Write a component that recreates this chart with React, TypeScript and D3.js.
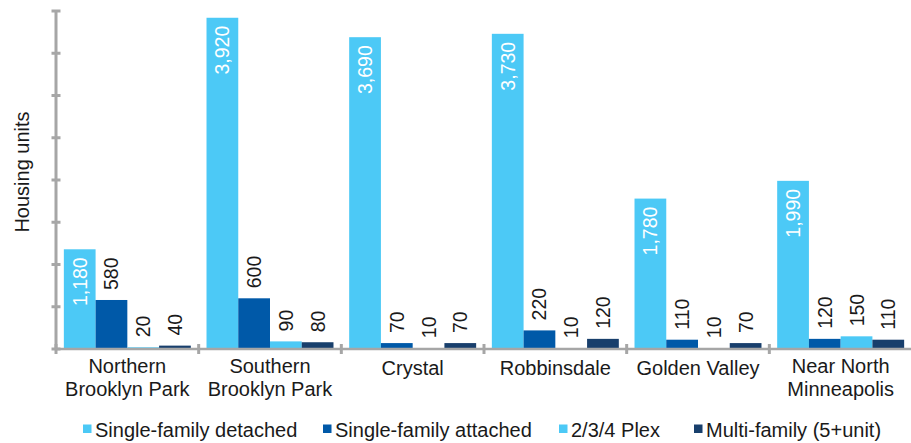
import React, { useEffect, useRef } from "react";
import * as d3 from "d3";

// chart data
const categories = [
  ["Northern", "Brooklyn Park"],
  ["Southern", "Brooklyn Park"],
  ["Crystal"],
  ["Robbinsdale"],
  ["Golden Valley"],
  ["Near North", "Minneapolis"],
];
const seriesNames = [
  "Single-family detached",
  "Single-family attached",
  "2/3/4 Plex",
  "Multi-family (5+unit)",
];
const singleDetached = [1180, 3920, 3690, 3730, 1780, 1990];
const singleAttached = [580, 600, 70, 220, 110, 120];
const plex = [20, 90, 10, 10, 10, 150];
const multiFamily = [40, 80, 70, 120, 70, 110];
const yTicks = [0, 500, 1000, 1500, 2000, 2500, 3000, 3500, 4000];

const colors = ["#4cc9f6", "#0059a8", "#4cc9f6", "#183f6c"];
const legendX = [83, 323, 559, 694];

const W = 911;
const H = 443;
const FONT = "'Liberation Sans', Arial, sans-serif";

const App = () => {
  const svgRef = useRef<SVGSVGElement | null>(null);

  useEffect(() => {
    const svg = d3.select(svgRef.current);
    svg.selectAll("*").remove();

    const series = [singleDetached, singleAttached, plex, multiFamily];
    const left = 56;
    const right = 912;
    const top = 11;
    const bottom = 349;

    const keys = categories.map((c) => c.join(" "));
    const x0 = d3.scaleBand().domain(keys).range([left, right]).padding(0);
    const bw = x0.bandwidth();
    const pad = bw * 0.055;
    const x1 = d3
      .scaleBand()
      .domain(seriesNames)
      .range([pad, bw - pad])
      .padding(0);
    const y = d3.scaleLinear().domain([0, 4000]).range([bottom, top]);

    // bars
    series.forEach((vals, si) => {
      svg
        .append("g")
        .selectAll("rect")
        .data(vals)
        .join("rect")
        .attr("x", (d, i) => (x0(keys[i]) as number) + (x1(seriesNames[si]) as number))
        .attr("y", (d) => y(d))
        .attr("width", x1.bandwidth())
        .attr("height", (d) => bottom - y(d))
        .attr("fill", colors[si]);
    });

    // axes
    const axisColor = "#a6a6a6";
    svg
      .append("line")
      .attr("x1", left)
      .attr("x2", left)
      .attr("y1", top)
      .attr("y2", bottom)
      .attr("stroke", axisColor)
      .attr("stroke-width", 3);
    svg
      .append("g")
      .selectAll("line")
      .data(yTicks)
      .join("line")
      .attr("x1", left - 4.5)
      .attr("x2", left + 4.5)
      .attr("y1", (d) => y(d))
      .attr("y2", (d) => y(d))
      .attr("stroke", axisColor)
      .attr("stroke-width", 3);
    svg
      .append("line")
      .attr("x1", left)
      .attr("x2", right)
      .attr("y1", bottom)
      .attr("y2", bottom)
      .attr("stroke", axisColor)
      .attr("stroke-width", 2.5);
    svg
      .append("g")
      .selectAll("line")
      .data(keys)
      .join("line")
      .attr("x1", (d) => x0(d) as number)
      .attr("x2", (d) => x0(d) as number)
      .attr("y1", bottom - 5)
      .attr("y2", bottom + 5)
      .attr("stroke", axisColor)
      .attr("stroke-width", 3);

    // data labels (big values sit inside the bar in white)
    series.forEach((vals, si) => {
      svg
        .append("g")
        .selectAll("text")
        .data(vals)
        .join("text")
        .attr("transform", (d, i) => {
          const cx = (x0(keys[i]) as number) + (x1(seriesNames[si]) as number) + x1.bandwidth() / 2;
          const inside = d >= 1000;
          const ty = inside ? y(d) + 8 : y(d) - 10;
          return `translate(${cx + 7},${ty}) rotate(-90)`;
        })
        .attr("text-anchor", (d) => (d >= 1000 ? "end" : "start"))
        .attr("font-family", FONT)
        .attr("font-size", 19.5)
        .attr("fill", (d) => (d >= 1000 ? "#ffffff" : "#1a1a1a"))
        .text((d) => d3.format(",")(d));
    });

    // category labels
    categories.forEach((lines, i) => {
      const cx = (x0(keys[i]) as number) + bw / 2;
      const t = svg
        .append("text")
        .attr("text-anchor", "middle")
        .attr("font-family", FONT)
        .attr("font-size", 20)
        .attr("fill", "#1a1a1a");
      if (lines.length === 1) {
        t.append("tspan").attr("x", cx).attr("y", 375).text(lines[0]);
      } else {
        lines.forEach((l, k) => {
          t.append("tspan").attr("x", cx).attr("y", 373 + k * 22.5).text(l);
        });
      }
    });

    // y axis title
    svg
      .append("text")
      .attr("transform", "translate(29,172) rotate(-90)")
      .attr("text-anchor", "middle")
      .attr("font-family", FONT)
      .attr("font-size", 20)
      .attr("fill", "#1a1a1a")
      .text("Housing units");

    // legend
    const lg = svg
      .append("g")
      .selectAll("g")
      .data(seriesNames)
      .join("g")
      .attr("transform", (d, i) => `translate(${legendX[i]},429)`);
    lg.append("rect")
      .attr("x", 0)
      .attr("y", -4.5)
      .attr("width", 8.5)
      .attr("height", 8.5)
      .attr("fill", (d, i) => colors[i]);
    lg.append("text")
      .attr("x", 12)
      .attr("y", 7.5)
      .attr("font-family", FONT)
      .attr("font-size", 20)
      .attr("fill", "#1a1a1a")
      .text((d) => d);
  }, []);

  return (
    <svg
      ref={svgRef}
      width={W}
      height={H}
      viewBox={`0 0 ${W} ${H}`}
      style={{ position: "absolute", left: 0, top: 0, background: "#fff" }}
    ></svg>
  );
};

export default App;
